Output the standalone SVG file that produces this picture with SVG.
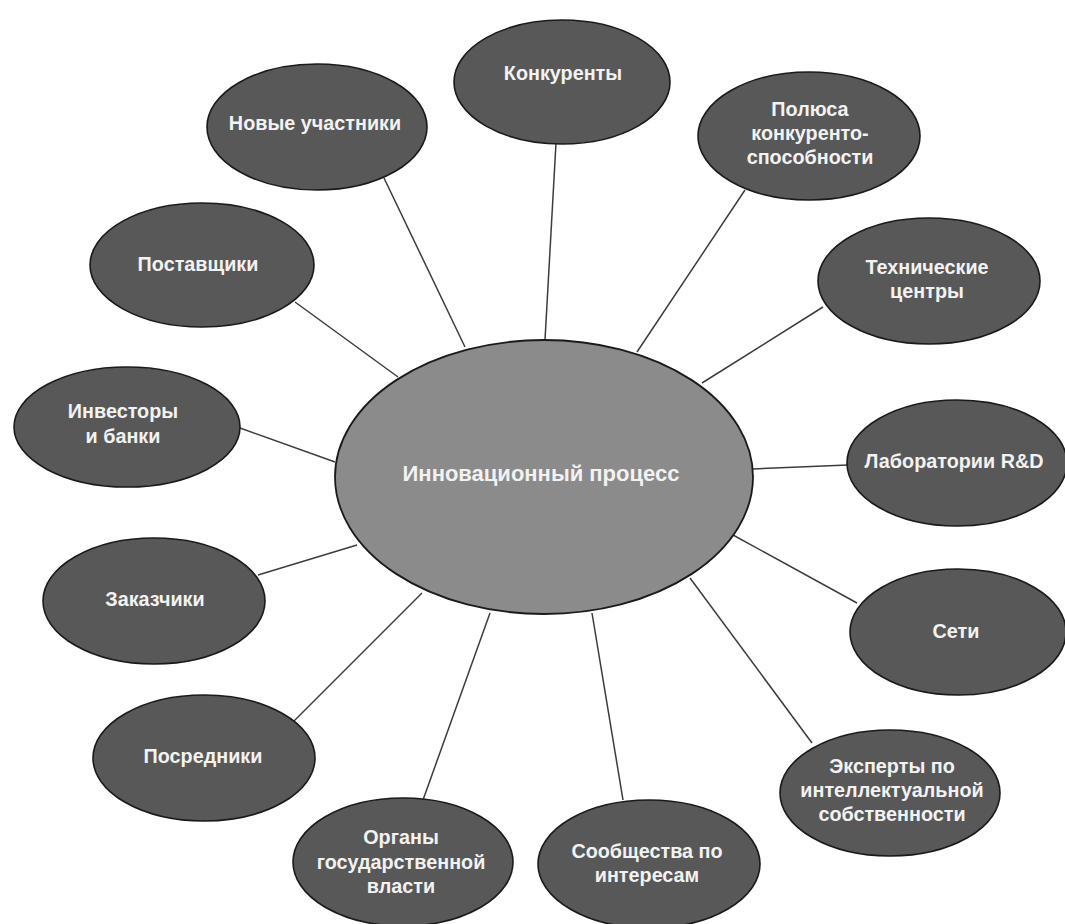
<svg xmlns="http://www.w3.org/2000/svg" width="1065" height="924" viewBox="0 0 1065 924">
<style>
.n{fill:#585858;stroke:#1a1a1a;stroke-width:1.6}
.c{fill:#8b8b8b;stroke:#1a1a1a;stroke-width:1.8}
.t{font-family:"Liberation Sans",Arial,sans-serif;font-weight:bold;font-size:19.8px;fill:#f2f2f2;text-anchor:middle}
.tc{font-size:22px}
#connectors line{stroke:#3c3c3c;stroke-width:1.5}
</style>
<rect width="1065" height="924" fill="#ffffff"/>
<g id="connectors">
<line x1="384" y1="178" x2="465" y2="347"/>
<line x1="556" y1="143" x2="545" y2="340"/>
<line x1="745" y1="190" x2="637" y2="352"/>
<line x1="823" y1="307" x2="702" y2="383"/>
<line x1="295" y1="302" x2="398" y2="377"/>
<line x1="240" y1="428" x2="335" y2="462"/>
<line x1="848" y1="465" x2="753" y2="469"/>
<line x1="258" y1="575" x2="357" y2="545"/>
<line x1="857" y1="603" x2="733" y2="535"/>
<line x1="293" y1="722" x2="422" y2="593"/>
<line x1="812" y1="743" x2="690" y2="578"/>
<line x1="423" y1="800" x2="490" y2="613"/>
<line x1="623" y1="800" x2="592" y2="613"/>
</g>
<g id="center">
<ellipse class="c" cx="544" cy="477" rx="209" ry="137"/>
<text class="t tc" x="541" y="481">Инновационный процесс</text>
</g>
<g id="novye">
<ellipse class="n" cx="317" cy="127" rx="110" ry="63"/>
<text class="t" x="315" y="130">Новые участники</text>
</g>
<g id="konkurenty">
<ellipse class="n" cx="562" cy="82" rx="108" ry="62"/>
<text class="t" x="563" y="80">Конкуренты</text>
</g>
<g id="polyusa">
<ellipse class="n" cx="809" cy="136" rx="111" ry="64"/>
<text class="t" x="810" y="116">Полюса</text>
<text class="t" x="810" y="140">конкуренто-</text>
<text class="t" x="810" y="164">способности</text>
</g>
<g id="tekh">
<ellipse class="n" cx="929" cy="281" rx="111" ry="63"/>
<text class="t" x="927" y="274">Технические</text>
<text class="t" x="927" y="298">центры</text>
</g>
<g id="postavshchiki">
<ellipse class="n" cx="202" cy="265" rx="112" ry="62"/>
<text class="t" x="198" y="271">Поставщики</text>
</g>
<g id="investory">
<ellipse class="n" cx="127" cy="427" rx="113" ry="60"/>
<text class="t" x="123" y="418">Инвесторы</text>
<text class="t" x="123" y="443">и банки</text>
</g>
<g id="lab">
<ellipse class="n" cx="957" cy="463" rx="110" ry="63"/>
<text class="t" x="954" y="468">Лаборатории R&amp;D</text>
</g>
<g id="zakazchiki">
<ellipse class="n" cx="154" cy="601" rx="111" ry="63"/>
<text class="t" x="155" y="606">Заказчики</text>
</g>
<g id="seti">
<ellipse class="n" cx="958" cy="632" rx="108" ry="63"/>
<text class="t" x="956" y="638">Сети</text>
</g>
<g id="posredniki">
<ellipse class="n" cx="204" cy="758" rx="111" ry="63"/>
<text class="t" x="203" y="763">Посредники</text>
</g>
<g id="eksperty">
<ellipse class="n" cx="890" cy="793" rx="110" ry="63"/>
<text class="t" x="892" y="773">Эксперты по</text>
<text class="t" x="892" y="797">интеллектуальной</text>
<text class="t" x="892" y="821">собственности</text>
</g>
<g id="organy">
<ellipse class="n" cx="403" cy="862" rx="110" ry="64"/>
<text class="t" x="401" y="844">Органы</text>
<text class="t" x="401" y="869">государственной</text>
<text class="t" x="401" y="893">власти</text>
</g>
<g id="soobshchestva">
<ellipse class="n" cx="649" cy="864" rx="111" ry="64"/>
<text class="t" x="647" y="858">Сообщества по</text>
<text class="t" x="647" y="882">интересам</text>
</g>
</svg>
